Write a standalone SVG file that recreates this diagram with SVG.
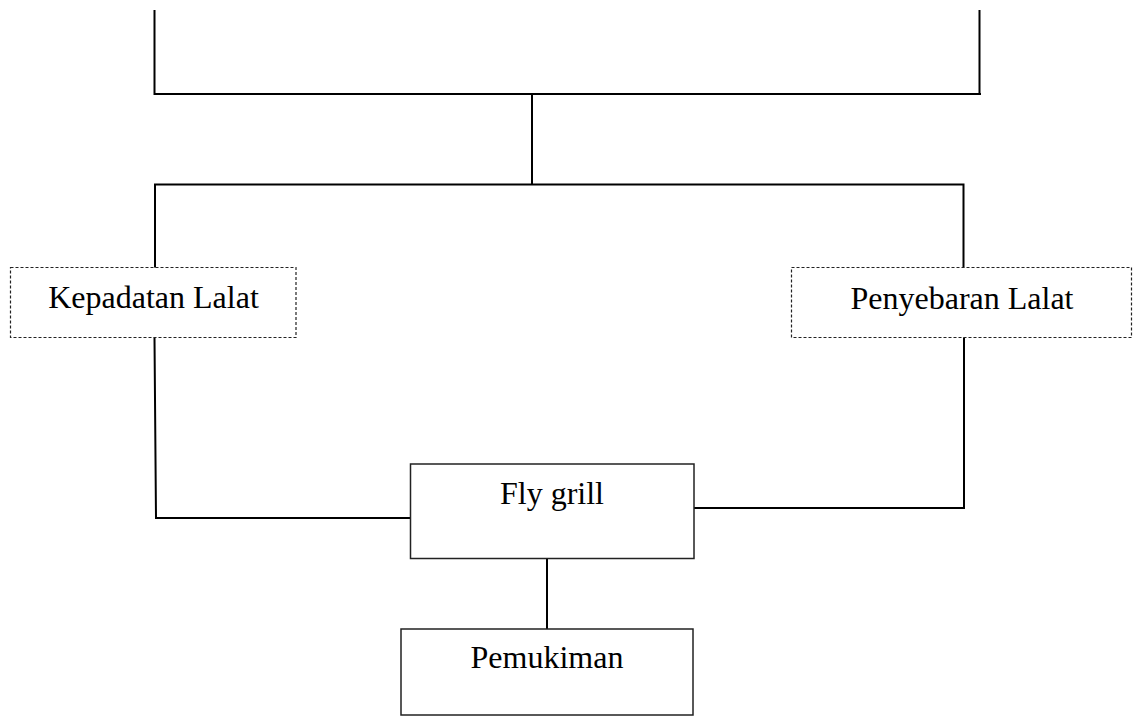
<svg xmlns="http://www.w3.org/2000/svg" width="1133" height="716" viewBox="0 0 1133 716">
<style>
.ln{fill:none;stroke:#000;stroke-width:2;stroke-linecap:square}
.dbox{fill:#fff;stroke:#222;stroke-width:1.2;stroke-dasharray:3 2}
.box{fill:#fff;stroke:#222;stroke-width:1.5}
.t{font-family:"Liberation Serif","Times New Roman",serif;font-size:32px;fill:#000;text-anchor:middle}
</style>
<rect width="1133" height="716" fill="#fff"/>
<g id="connectors">
<path class="ln" d="M154.5 11V94M979.5 11V94M155 94H980"/>
<path class="ln" d="M532 94V184"/>
<path class="ln" d="M155 184.5H963M155 184.5V267M963.5 184.5V267"/>
<path class="ln" d="M154.5 338L156 518H410"/>
<path class="ln" d="M964 338V508H694"/>
<path class="ln" d="M547 559V629"/>
</g>
<g id="kepadatan">
<rect class="dbox" x="10.5" y="267.5" width="285.5" height="70"/>
<text class="t" x="153.5" y="308">Kepadatan Lalat</text>
</g>
<g id="penyebaran">
<rect class="dbox" x="791.5" y="267.5" width="340" height="70"/>
<text class="t" x="962" y="309">Penyebaran Lalat</text>
</g>
<g id="flygrill">
<rect class="box" x="410.5" y="464" width="283.5" height="94.5"/>
<text class="t" x="552" y="504">Fly grill</text>
</g>
<g id="pemukiman">
<rect class="box" x="401" y="629" width="292" height="86"/>
<text class="t" x="547" y="668">Pemukiman</text>
</g>
</svg>
